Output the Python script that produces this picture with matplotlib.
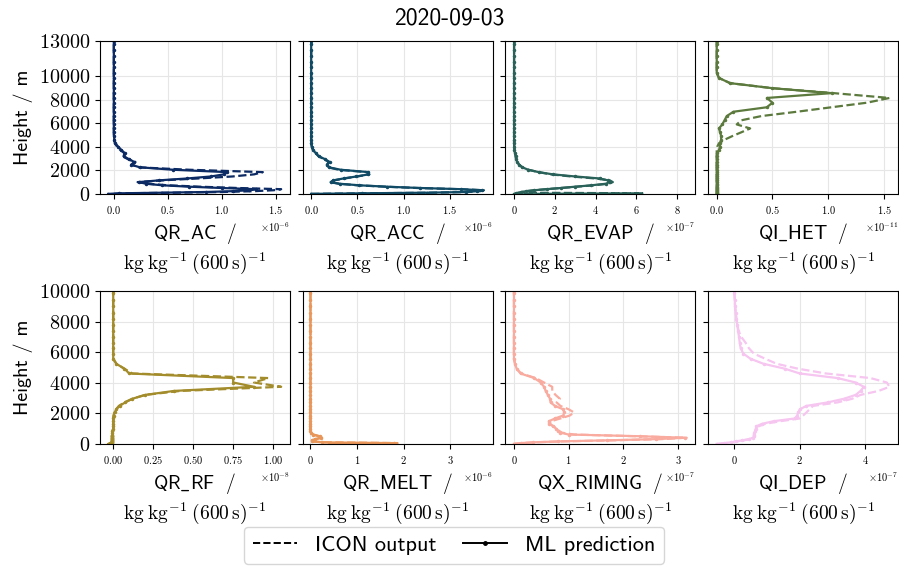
import numpy as np
import matplotlib.pyplot as plt
from matplotlib.ticker import MaxNLocator, ScalarFormatter
from matplotlib.lines import Line2D

plt.rcParams['font.family'] = 'cmr10'
plt.rcParams['mathtext.fontset'] = 'cm'
plt.rcParams['axes.formatter.use_mathtext'] = True

# model level heights (m)
heights = [10, 60, 110, 170, 240, 320, 410, 510, 620, 740,
           870, 1010, 1160, 1320, 1490, 1670, 1860, 2060, 2270, 2490,
           2720, 2960, 3210, 3470, 3740, 4020, 4310, 4610, 4920, 5240,
           5570, 5910, 6260, 6620, 6990, 7370, 7760, 8160, 8570, 8990,
           9420, 9860, 10310, 10770, 11240, 11720, 12210, 12710, 13000]

processes = ['QR_AC', 'QR_ACC', 'QR_EVAP', 'QI_HET',
             'QR_RF', 'QR_MELT', 'QX_RIMING', 'QI_DEP']
scales = [1e-6, 1e-6, 1e-7, 1e-11, 1e-8, 1e-6, 1e-7, 1e-7]
colors = ['#0c2a63', '#114a65', '#2a6259', '#5c7a3d',
          '#a38c2b', '#e8965a', '#f9ab9f', '#f6c5f0']

## ICON output (dashed) and ML prediction (solid), in units of `scales`
qr_ac_icon = [0.0, 0.1, 0.55, 1.0, 1.3, 1.48, 1.55, 1.15, 0.8, 0.5,
              0.32, 0.22, 0.45, 0.78, 1.1, 1.3, 1.38, 0.7, 0.22, 0.17,
              0.2, 0.13, 0.08, 0.1, 0.06, 0.03, 0.01, 0.003, 0.0, 0.0,
              0.0, 0.0, 0.0, 0.0, 0.0, 0.0, 0.0, 0.0, 0.0, 0.0,
              0.0, 0.0, 0.0, 0.0, 0.0, 0.0, 0.0, 0.0, 0.0]
qr_ac_ml = [-0.05, 0.05, 0.45, 0.85, 1.1, 1.25, 1.32, 1.0, 0.7, 0.45,
            0.3, 0.23, 0.42, 0.68, 0.9, 1.02, 1.05, 0.55, 0.24, 0.16,
            0.19, 0.14, 0.09, 0.1, 0.07, 0.04, 0.015, 0.005, 0.002, 0.001,
            0.0, 0.0, 0.0, 0.0, 0.0, 0.0, 0.0, 0.0, 0.0, 0.0,
            0.0, 0.0, 0.0, 0.0, 0.0, 0.0, 0.0, 0.0, 0.0]

qr_acc_icon = [0.0, 0.6, 1.3, 1.7, 1.83, 1.87, 1.6, 1.15, 0.8, 0.5,
               0.3, 0.2, 0.25, 0.36, 0.5, 0.63, 0.6, 0.3, 0.18, 0.17,
               0.19, 0.14, 0.08, 0.05, 0.02, 0.006, 0.0, 0.0, 0.0, 0.0,
               0.0, 0.0, 0.0, 0.0, 0.0, 0.0, 0.0, 0.0, 0.0, 0.0,
               0.0, 0.0, 0.0, 0.0, 0.0, 0.0, 0.0, 0.0, 0.0]
qr_acc_ml = [0.0, 0.55, 1.25, 1.68, 1.8, 1.85, 1.62, 1.18, 0.82, 0.52,
             0.31, 0.21, 0.24, 0.35, 0.49, 0.62, 0.62, 0.32, 0.19, 0.17,
             0.2, 0.15, 0.08, 0.05, 0.02, 0.008, 0.002, 0.0, 0.0, 0.0,
             0.0, 0.0, 0.0, 0.0, 0.0, 0.0, 0.0, 0.0, 0.0, 0.0,
             0.0, 0.0, 0.0, 0.0, 0.0, 0.0, 0.0, 0.0, 0.0]

qr_evap_icon = [0.5, 6.3, 0.3, 0.4, 0.6, 1.0, 1.6, 2.3, 3.1, 3.9,
                4.6, 4.85, 4.7, 4.0, 2.8, 1.8, 1.2, 0.7, 0.4, 0.25,
                0.15, 0.1, 0.08, 0.05, 0.02, 0.01, 0.0, 0.0, 0.0, 0.0,
                0.0, 0.0, 0.0, 0.0, 0.0, 0.0, 0.0, 0.0, 0.0, 0.0,
                0.0, 0.0, 0.0, 0.0, 0.0, 0.0, 0.0, 0.0, 0.0]
qr_evap_ml = [0.0, 0.1, 0.2, 0.35, 0.6, 1.0, 1.6, 2.3, 3.0, 3.8,
              4.5, 4.7, 4.6, 4.2, 3.0, 1.9, 1.2, 0.7, 0.4, 0.25,
              0.15, 0.1, 0.08, 0.05, 0.02, 0.01, 0.0, 0.0, 0.0, 0.0,
              0.0, 0.0, 0.0, 0.0, 0.0, 0.0, 0.0, 0.0, 0.0, 0.0,
              0.0, 0.0, 0.0, 0.0, 0.0, 0.0, 0.0, 0.0, 0.0]

qi_het_icon = [0.0, 0.0, 0.0, 0.0, 0.0, 0.0, 0.0, 0.0, 0.0, 0.0,
               0.0, 0.0, 0.0, 0.0, 0.0, 0.0, 0.0, 0.0, 0.0, 0.0,
               0.0, 0.0, 0.0, 0.0, 0.0, 0.005, 0.02, 0.07, 0.14, 0.22,
               0.3, 0.18, 0.22, 0.4, 0.72, 1.03, 1.35, 1.55, 1.05, 0.5,
               0.12, 0.02, 0.0, 0.0, 0.0, 0.0, 0.0, 0.0, 0.0]
qi_het_ml = [0.0, 0.0, 0.0, 0.0, 0.0, 0.0, 0.0, 0.0, 0.0, 0.0,
             0.0, 0.0, 0.0, 0.0, 0.0, 0.0, 0.0, 0.0, 0.0, 0.0,
             0.0, 0.0, 0.0, 0.005, 0.02, 0.03, 0.03, 0.04, 0.04, 0.03,
             0.02, 0.05, 0.07, 0.09, 0.15, 0.45, 0.5, 0.45, 1.03, 0.5,
             0.12, 0.02, 0.0, 0.0, 0.0, 0.0, 0.0, 0.0, 0.0]

qr_rf_icon = [0.0, 0.0, 0.0, 0.0, 0.0, 0.0, 0.0, 0.0, 0.0, 0.0,
              0.0, 0.0, 0.0, 0.0, 0.0, 0.0, 0.003, 0.008, 0.018, 0.035,
              0.07, 0.12, 0.2, 0.42, 1.05, 0.88, 0.97, 0.12, 0.07, 0.02,
              0.0, 0.0, 0.0, 0.0, 0.0, 0.0, 0.0, 0.0, 0.0, 0.0,
              0.0, 0.0, 0.0, 0.0, 0.0, 0.0, 0.0, 0.0, 0.0]
qr_rf_ml = [-0.03, -0.02, -0.01, -0.01, -0.01, -0.01, -0.01, -0.01, -0.005, -0.005,
            -0.005, 0.0, 0.0, 0.0, 0.0, 0.0, 0.002, 0.008, 0.02, 0.04,
            0.075, 0.12, 0.2, 0.38, 0.88, 0.75, 0.75, 0.1, 0.07, 0.02,
            0.0, 0.0, 0.0, 0.0, 0.0, 0.0, 0.0, 0.0, 0.0, 0.0,
            0.0, 0.0, 0.0, 0.0, 0.0, 0.0, 0.0, 0.0, 0.0]

qr_melt_icon = [0.5, 1.87, 0.3, 0.05, 0.03, 0.12, 0.25, 0.18, 0.05, 0.01,
                0.0, 0.0, 0.0, 0.0, 0.0, 0.0, 0.0, 0.0, 0.0, 0.0,
                0.0, 0.0, 0.0, 0.0, 0.0, 0.0, 0.0, 0.0, 0.0, 0.0,
                0.0, 0.0, 0.0, 0.0, 0.0, 0.0, 0.0, 0.0, 0.0, 0.0,
                0.0, 0.0, 0.0, 0.0, 0.0, 0.0, 0.0, 0.0, 0.0]
qr_melt_ml = [0.4, 1.8, 0.25, 0.04, 0.03, 0.1, 0.22, 0.2, 0.06, 0.01,
              0.0, 0.0, 0.0, 0.0, 0.0, 0.0, 0.0, 0.0, 0.0, 0.0,
              0.0, 0.0, 0.0, 0.0, 0.0, 0.0, 0.0, 0.0, 0.0, 0.0,
              0.0, 0.0, 0.0, 0.0, 0.0, 0.0, 0.0, 0.0, 0.0, 0.0,
              0.0, 0.0, 0.0, 0.0, 0.0, 0.0, 0.0, 0.0, 0.0]

qx_riming_icon = [0.0, 0.15, 0.37, 0.9, 1.8, 2.7, 3.16, 2.2, 1.1, 0.88,
                  0.82, 0.78, 0.72, 0.66, 0.68, 0.85, 1.02, 1.1, 1.0, 0.85,
                  0.78, 0.84, 0.76, 0.7, 0.7, 0.55, 0.4, 0.13, 0.05, 0.02,
                  0.0, 0.0, 0.0, 0.0, 0.0, 0.0, 0.0, 0.0, 0.0, 0.0,
                  0.0, 0.0, 0.0, 0.0, 0.0, 0.0, 0.0, 0.0, 0.0]
qx_riming_ml = [0.0, 0.12, 0.35, 0.8, 1.7, 2.6, 3.12, 2.3, 1.0, 0.85,
                0.8, 0.77, 0.72, 0.64, 0.64, 0.75, 0.9, 0.92, 0.9, 0.75,
                0.67, 0.66, 0.62, 0.58, 0.55, 0.49, 0.37, 0.12, 0.05, 0.02,
                0.0, 0.0, 0.0, 0.0, 0.0, 0.0, 0.0, 0.0, 0.0, 0.0,
                0.0, 0.0, 0.0, 0.0, 0.0, 0.0, 0.0, 0.0, 0.0]

qi_dep_icon = [-0.45, -0.25, -0.05, 0.1, 0.3, 0.5, 0.6, 0.62, 0.62, 0.63,
               0.65, 0.68, 0.75, 0.95, 1.4, 2.0, 2.1, 2.2, 2.3, 2.4,
               3.15, 3.6, 3.85, 4.4, 4.73, 4.65, 4.15, 2.8, 1.95, 1.3,
               0.95, 0.6, 0.45, 0.35, 0.22, 0.14, 0.1, 0.07, 0.05, 0.03,
               0.02, 0.01, 0.0, 0.0, 0.0, 0.0, 0.0, 0.0, 0.0]
qi_dep_ml = [-0.53, -0.3, -0.1, 0.05, 0.25, 0.45, 0.58, 0.6, 0.6, 0.62,
             0.64, 0.66, 0.68, 0.85, 1.2, 1.85, 1.92, 1.95, 2.0, 2.2,
             2.85, 3.35, 3.7, 3.85, 3.95, 3.7, 3.15, 2.0, 1.55, 0.9,
             0.5, 0.28, 0.2, 0.17, 0.15, 0.12, 0.1, 0.07, 0.05, 0.03,
             0.02, 0.01, 0.0, 0.0, 0.0, 0.0, 0.0, 0.0, 0.0]

icon = [qr_ac_icon, qr_acc_icon, qr_evap_icon, qi_het_icon,
        qr_rf_icon, qr_melt_icon, qx_riming_icon, qi_dep_icon]
ml = [qr_ac_ml, qr_acc_ml, qr_evap_ml, qi_het_ml,
      qr_rf_ml, qr_melt_ml, qx_riming_ml, qi_dep_ml]

# x-range of the panels whose lowest level hides under the spine
xlims = {2: (-0.43e-7, 8.9e-7), 5: (-0.17e-6, 3.91e-6)}

fig, axes = plt.subplots(2, 4, figsize=(8.99, 5.75), dpi=100, sharey='row')
fig.subplots_adjust(left=0.111, right=0.999, top=0.9287, bottom=0.2278,
                    wspace=0.067, hspace=0.634)

for i, ax in enumerate(axes.flat):
    c = colors[i]
    ax.plot(np.array(icon[i]) * scales[i], heights, '--', color=c, lw=1.6)
    ax.plot(np.array(ml[i]) * scales[i], heights, '-', marker='.', ms=3,
            color=c, lw=1.6)
    if i in xlims:
        ax.set_xlim(*xlims[i])
    ax.grid(True, color='#e6e6e6', lw=0.8)
    ax.set_axisbelow(True)
    ax.xaxis.set_major_locator(MaxNLocator(5, steps=[1, 2, 2.5, 5, 10]))
    fmt = ScalarFormatter(useMathText=True)
    fmt.set_powerlimits((-3, 3))
    ax.xaxis.set_major_formatter(fmt)
    ax.tick_params(axis='x', labelsize=7.5)
    ax.tick_params(axis='y', labelsize=14.5)
    ax.xaxis.get_offset_text().set_fontsize(7.5)
    name = processes[i].replace('_', r'\_')
    ax.set_xlabel(r'$\mathsf{' + name + r'\ \ /}$' + '\n' +
                  r'$\mathrm{kg\;kg^{-1}\;(600\,s)^{-1}}$', fontsize=14)

axes[0, 0].set_ylim(0, 13000)
axes[0, 0].set_yticks([0, 2000, 4000, 6000, 8000, 10000, 13000])
axes[1, 0].set_ylim(0, 10000)
axes[1, 0].set_yticks([0, 2000, 4000, 6000, 8000, 10000])
for ax in axes[:, 0]:
    ax.set_ylabel('Height / m', fontfamily='cmss10', fontsize=14.5)

fig.suptitle('2020-09-03', y=0.968, fontsize=17, fontfamily='cmss10',
             va='center')

handles = [Line2D([], [], color='k', ls='--', lw=1.4),
           Line2D([], [], color='k', ls='-', marker='.', ms=5, lw=1.4)]
fig.legend(handles, ['ICON output', 'ML prediction'], loc='lower center',
           bbox_to_anchor=(0.505, 0.0), ncol=2, columnspacing=1.2,
           prop={'family': 'cmss10', 'size': 16})

fig.savefig('out.png', dpi=100)
